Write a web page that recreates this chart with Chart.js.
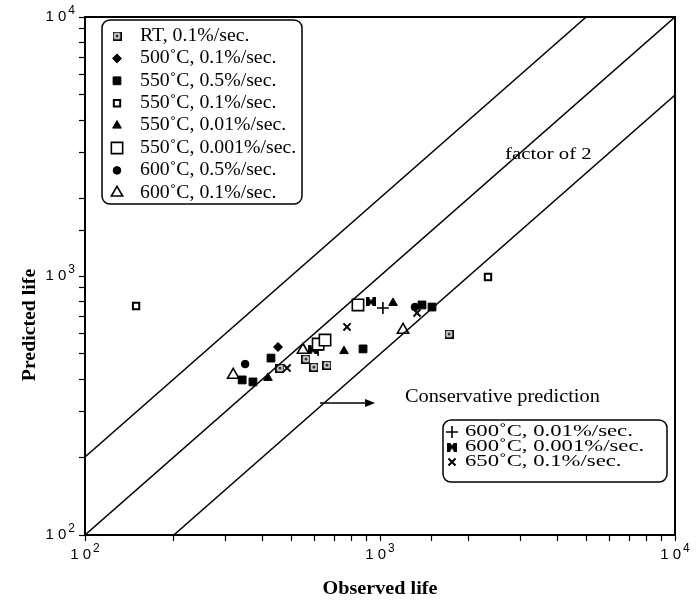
<!DOCTYPE html>
<html>
<head>
<meta charset="utf-8">
<script src="https://cdn.jsdelivr.net/npm/chart.js@4.4.1/dist/chart.umd.min.js"></script>
<style>
  html, body { margin: 0; background: #fff; }
</style>
</head>
<body>
<canvas id="lifeChart" width="700" height="600"></canvas>
<script>
/* global Chart */
// --- observed vs predicted life, one pair of arrays per test condition ---
const rtObs = [458, 561, 597, 661, 1714];
const rtPred = [441, 478, 445, 453, 597];
const c500r01Obs = [451];
const c500r01Pred = [532];
const c550r05Obs = [341, 371, 427, 876, 1388, 1501];
const c550r05Pred = [397, 390, 482, 523, 773, 759];
const c550r01Obs = [149, 2323];
const c550r01Pred = [766, 991];
const c550r001Obs = [417, 755, 1107];
const c550r001Pred = [404, 513, 787];
const c550r0001Obs = [617, 651, 842];
const c550r0001Pred = [546, 566, 773];
const c600r05Obs = [349, 1314];
const c600r05Pred = [457, 759];
const c600r01Obs = [318, 548, 1197];
const c600r01Pred = [415, 518, 619];
const c600r001Obs = [617, 1023];
const c600r001Pred = [518, 752];
const c600r0001Obs = [593, 932];
const c600r0001Pred = [518, 794];
const c650r01Obs = [484, 773, 1335];
const c650r01Pred = [441, 636, 720];

// scatter band: predicted = factor * observed
const bandFactors = [0.5, 1, 2];
const axisMin = 100;
const axisMax = 10000;
const decades = [100, 1000, 10000];
const decadeExponents = ["2", "3", "4"];

// small bitmap markers for the two symbols Chart.js has no style for
function rtMark() {
  const c = document.createElement("canvas");
  c.width = 9; c.height = 9;
  const g = c.getContext("2d");
  g.fillStyle = "#000"; g.fillRect(0, 0, 9, 9);
  g.fillStyle = "#fff"; g.fillRect(1.5, 1.5, 6, 6);
  g.fillStyle = "#333"; g.fillRect(3, 3, 3, 3);
  return c;
}
function bowtieMark() {
  const c = document.createElement("canvas");
  c.width = 10; c.height = 9;
  const g = c.getContext("2d");
  g.fillStyle = "#000"; g.fillRect(0, 0, 10, 9);
  g.fillStyle = "#fff";
  g.beginPath(); g.moveTo(3, 0); g.lineTo(7, 0); g.lineTo(5, 3); g.closePath(); g.fill();
  g.beginPath(); g.moveTo(3, 9); g.lineTo(7, 9); g.lineTo(5, 6); g.closePath(); g.fill();
  return c;
}

const pairs = (xs, ys) => xs.map((v, i) => ({ x: v, y: ys[i] }));

const series = [
  { label: "RT, 0.1%/sec.", obs: rtObs, pred: rtPred, style: rtMark(), r: 4, fill: "#000", bw: 0 },
  { label: "500\u02DAC, 0.1%/sec.", obs: c500r01Obs, pred: c500r01Pred, style: "rectRot", r: 4.5, fill: "#000", bw: 1 },
  { label: "550\u02DAC, 0.5%/sec.", obs: c550r05Obs, pred: c550r05Pred, style: "rect", r: 5.5, fill: "#000", bw: 1 },
  { label: "550\u02DAC, 0.1%/sec.", obs: c550r01Obs, pred: c550r01Pred, style: "rect", r: 4.5, fill: "#fff", bw: 2 },
  { label: "550\u02DAC, 0.01%/sec.", obs: c550r001Obs, pred: c550r001Pred, style: "triangle", r: 5, fill: "#000", bw: 1 },
  { label: "550\u02DAC, 0.001%/sec.", obs: c550r0001Obs, pred: c550r0001Pred, style: "rect", r: 8, fill: "#fff", bw: 1.6 },
  { label: "600\u02DAC, 0.5%/sec.", obs: c600r05Obs, pred: c600r05Pred, style: "circle", r: 3.8, fill: "#000", bw: 1 },
  { label: "600\u02DAC, 0.1%/sec.", obs: c600r01Obs, pred: c600r01Pred, style: "triangle", r: 6.5, fill: "#fff", bw: 1.6 },
  { label: "600\u02DAC, 0.01%/sec.", obs: c600r001Obs, pred: c600r001Pred, style: "cross", r: 6, fill: "#000", bw: 1.6 },
  { label: "600\u02DAC, 0.001%/sec.", obs: c600r0001Obs, pred: c600r0001Pred, style: bowtieMark(), r: 5, fill: "#000", bw: 0 },
  { label: "650\u02DAC, 0.1%/sec.", obs: c650r01Obs, pred: c650r01Pred, style: "crossRot", r: 5, fill: "#000", bw: 2 }
];

const bandSets = bandFactors.map((f) => ({
  type: "line",
  data: [
    { x: Math.max(axisMin, axisMin / f), y: Math.max(axisMin, axisMin / f) * f },
    { x: Math.min(axisMax, axisMax / f), y: Math.min(axisMax, axisMax / f) * f }
  ],
  borderColor: "#000",
  borderWidth: 1.5,
  pointRadius: 0,
  showLine: true,
  fill: false
}));

const pointSets = series.map((s) => ({
  type: "scatter",
  label: s.label,
  data: pairs(s.obs, s.pred),
  pointStyle: s.style,
  pointRadius: s.r,
  pointBackgroundColor: s.fill,
  pointBorderColor: "#000",
  pointBorderWidth: s.bw
}));

const serif = "'Liberation Serif', 'Times New Roman', serif";
const sans = "'Liberation Sans', Arial, sans-serif";

// the scanned typeface is wider than Liberation Serif, so stretch it
function wideText(ctx, text, x, y, sx, align) {
  ctx.save();
  ctx.translate(x, y);
  ctx.scale(sx, 1);
  ctx.textAlign = align || "left";
  ctx.fillText(text, 0, 0);
  ctx.restore();
}

function drawKey(ctx, box, rows, font, sx, rowGap) {
  ctx.save();
  ctx.strokeStyle = "#000";
  ctx.lineWidth = 1.5;
  ctx.beginPath();
  ctx.roundRect(box.left, box.top, box.w, box.h, 8);
  ctx.stroke();
  ctx.font = font;
  ctx.textBaseline = "middle";
  rows.forEach((s, i) => {
    const y = box.top + box.first + i * rowGap;
    ctx.fillStyle = s.fill;
    ctx.strokeStyle = "#000";
    ctx.lineWidth = s.bw;
    Chart.helpers.drawPoint(ctx, { pointStyle: s.style, radius: s.r, rotation: 0, borderWidth: s.bw }, box.left + box.sym, y);
    ctx.fillStyle = "#000";
    wideText(ctx, s.label, box.left + box.text, y, sx);
  });
  ctx.restore();
}

// "10" with a raised exponent, right edge or centre at (x, y)
function decadeLabel(ctx, exp, x, y, align) {
  ctx.save();
  ctx.fillStyle = "#000";
  ctx.textBaseline = "middle";
  ctx.textAlign = "left";
  ctx.font = "15px " + sans;
  const base = "1 0";
  const bw = ctx.measureText(base).width;
  ctx.font = "12px " + sans;
  const ew = ctx.measureText(exp).width + 2;
  const left = align === "right" ? x - bw - ew : x - (bw + ew) / 2;
  ctx.font = "15px " + sans;
  ctx.fillText(base, left, y);
  ctx.font = "12px " + sans;
  ctx.fillText(exp, left + bw + 2, y - 6);
  ctx.restore();
}

const decorations = {
  id: "decorations",
  afterDatasetsDraw(chart) {
    const { ctx, chartArea: a, scales: { x, y } } = chart;
    ctx.save();
    // closed frame
    ctx.strokeStyle = "#000";
    ctx.lineWidth = 2;
    ctx.strokeRect(a.left, a.top, a.right - a.left, a.bottom - a.top);

    decades.forEach((v, i) => {
      decadeLabel(ctx, decadeExponents[i], a.left - 10, y.getPixelForValue(v), "right");
      decadeLabel(ctx, decadeExponents[i], x.getPixelForValue(v), a.bottom + 20, "center");
    });

    ctx.fillStyle = "#000";
    ctx.textBaseline = "middle";
    ctx.font = "16px " + serif;
    wideText(ctx, "factor of 2", x.getPixelForValue(2655), y.getPixelForValue(2931), 1.3);
    ctx.font = "18px " + serif;
    wideText(ctx, "Conservative prediction", x.getPixelForValue(1215), y.getPixelForValue(341), 1.13);

    // arrow toward the conservative side
    const ay = y.getPixelForValue(323);
    const ax1 = x.getPixelForValue(626);
    const ax2 = x.getPixelForValue(962);
    ctx.lineWidth = 1.5;
    ctx.beginPath(); ctx.moveTo(ax1, ay); ctx.lineTo(ax2 - 4, ay); ctx.stroke();
    ctx.beginPath(); ctx.moveTo(ax2, ay); ctx.lineTo(ax2 - 10, ay - 4); ctx.lineTo(ax2 - 10, ay + 4); ctx.closePath(); ctx.fill();

    // axis titles
    ctx.font = "bold 18px " + serif;
    wideText(ctx, "Observed life", (a.left + a.right) / 2, 589, 1.12, "center");
    ctx.translate(30, 325);
    ctx.rotate(-Math.PI / 2);
    wideText(ctx, "Predicted life", 0, 0, 1.1, "center");
    ctx.restore();

    drawKey(ctx, { left: a.left + 17, top: a.top + 3, w: 200, h: 184, sym: 15, text: 38, first: 16 },
      series.slice(0, 8), "18px " + serif, 1.1, 22.4);
    drawKey(ctx, { left: 443, top: 420, w: 224, h: 62, sym: 9, text: 22, first: 12 },
      series.slice(8), "16px " + serif, 1.42, 15);
  }
};

const logAxis = (pos, fit) => ({
  type: "logarithmic",
  position: pos,
  min: axisMin,
  max: axisMax,
  border: { display: true, color: "#000", width: 2 },
  grid: { drawOnChartArea: false, color: "#000", tickLength: 6, tickWidth: 1.2 },
  ticks: { display: false, autoSkip: false },
  afterFit: fit
});

new Chart(document.getElementById("lifeChart"), {
  type: "scatter",
  data: { datasets: [...bandSets, ...pointSets] },
  options: {
    responsive: false,
    animation: false,
    events: [],
    layout: { padding: { top: 17, right: 25, left: 0, bottom: 0 } },
    plugins: { legend: { display: false }, tooltip: { enabled: false } },
    scales: {
      x: logAxis("bottom", (s) => { s.height = 65; }),
      y: logAxis("left", (s) => { s.width = 85; })
    }
  },
  plugins: [decorations]
});
</script>
</body>
</html>
